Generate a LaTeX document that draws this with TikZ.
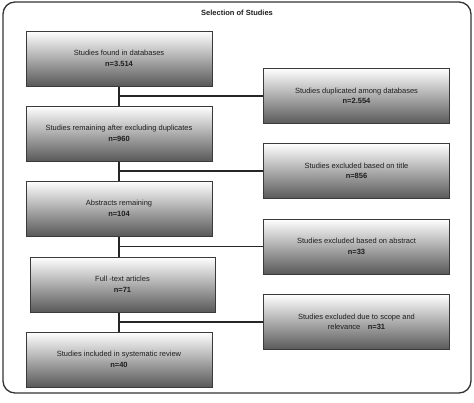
\documentclass[tikz,border=0pt]{standalone}
\usepackage{fontspec}
\setmainfont{Liberation Sans}
\usetikzlibrary{positioning,calc}
\definecolor{boxline}{HTML}{3A3A3A}
\definecolor{boxdark}{HTML}{595959}
\definecolor{txtgray}{HTML}{1E1E1E}

\begin{document}
\begin{tikzpicture}[x=1pt,y=1pt]
		\tikzstyle{StepBox}   = [shape=rectangle,minimum width=186pt,minimum height=55pt,draw=boxline,line width=1pt,top color=white,bottom color=boxdark,align=center,text=txtgray,font=\fontsize{7.5}{10.5}\selectfont]
		\tikzstyle{LinkStyle} = [-,line width=1.2pt,draw=black!85]
		
		\useasboundingbox (0,0) rectangle (474,-402);
		\draw[rounded corners=12pt,line width=1.3pt,draw=black!80] (3,-2) rectangle (471,-393);
		\node[text=txtgray,font=\bfseries\fontsize{7.5}{9}\selectfont] (Title) at (237,-13) {Selection of Studies};
		\node[StepBox] (Found) at (119,-58.5) {Studies found in databases\\ \textbf{n=3.514}};
		\node[StepBox,below=19pt of Found] (Remaining) {Studies remaining after excluding duplicates\\ \textbf{n=960}};
		\node[StepBox,below=19pt of Remaining] (Abstracts) {Abstracts remaining\\ \textbf{n=104}};
		\node[StepBox,below=20pt of Abstracts,xshift=3.5pt,minimum width=185pt] (FullText) {Full -text articles\\ \textbf{n=71}};
		\node[StepBox,below=19pt of FullText,xshift=-3.5pt] (Included) {Studies included in systematic review\\ \textbf{n=40}};
		
		\coordinate (J1) at ($(Found.south)!.5!(Found.south |- Remaining.north)$);
		\coordinate (J2) at ($(Remaining.south)!.5!(Remaining.south |- Abstracts.north)$);
		\coordinate (J3) at ($(Abstracts.south)!.5!(Abstracts.south |- FullText.north)$);
		\coordinate (J4) at ($(Included.north)!.5!(Included.north |- FullText.south)$);
		
		\node[StepBox,right=144pt of J1] (Duplicated) {Studies duplicated among databases\\ \textbf{n=2.554}};
		\node[StepBox,right=144pt of J2] (ExTitle) {Studies excluded based on title\\ \textbf{n=856}};
		\node[StepBox,right=144pt of J3] (ExAbstract) {Studies excluded based on abstract\\ \textbf{n=33}};
		\node[StepBox,right=144pt of J4] (ExScope) {Studies excluded due to scope and\\ relevance\quad\textbf{n=31}};
		
		\draw[LinkStyle] (Found.south) -- (Found.south |- Remaining.north); \draw[LinkStyle] (J1) -- (Duplicated.west);
		\draw[LinkStyle] (Remaining.south) -- (Remaining.south |- Abstracts.north); \draw[LinkStyle] (J2) -- (ExTitle.west);
		\draw[LinkStyle] (Abstracts.south) -- (Abstracts.south |- FullText.north); \draw[LinkStyle] (J3) -- (ExAbstract.west);
		\draw[LinkStyle] (Included.north |- FullText.south) -- (Included.north); \draw[LinkStyle] (J4) -- (ExScope.west);
	\end{tikzpicture}
\end{document}
